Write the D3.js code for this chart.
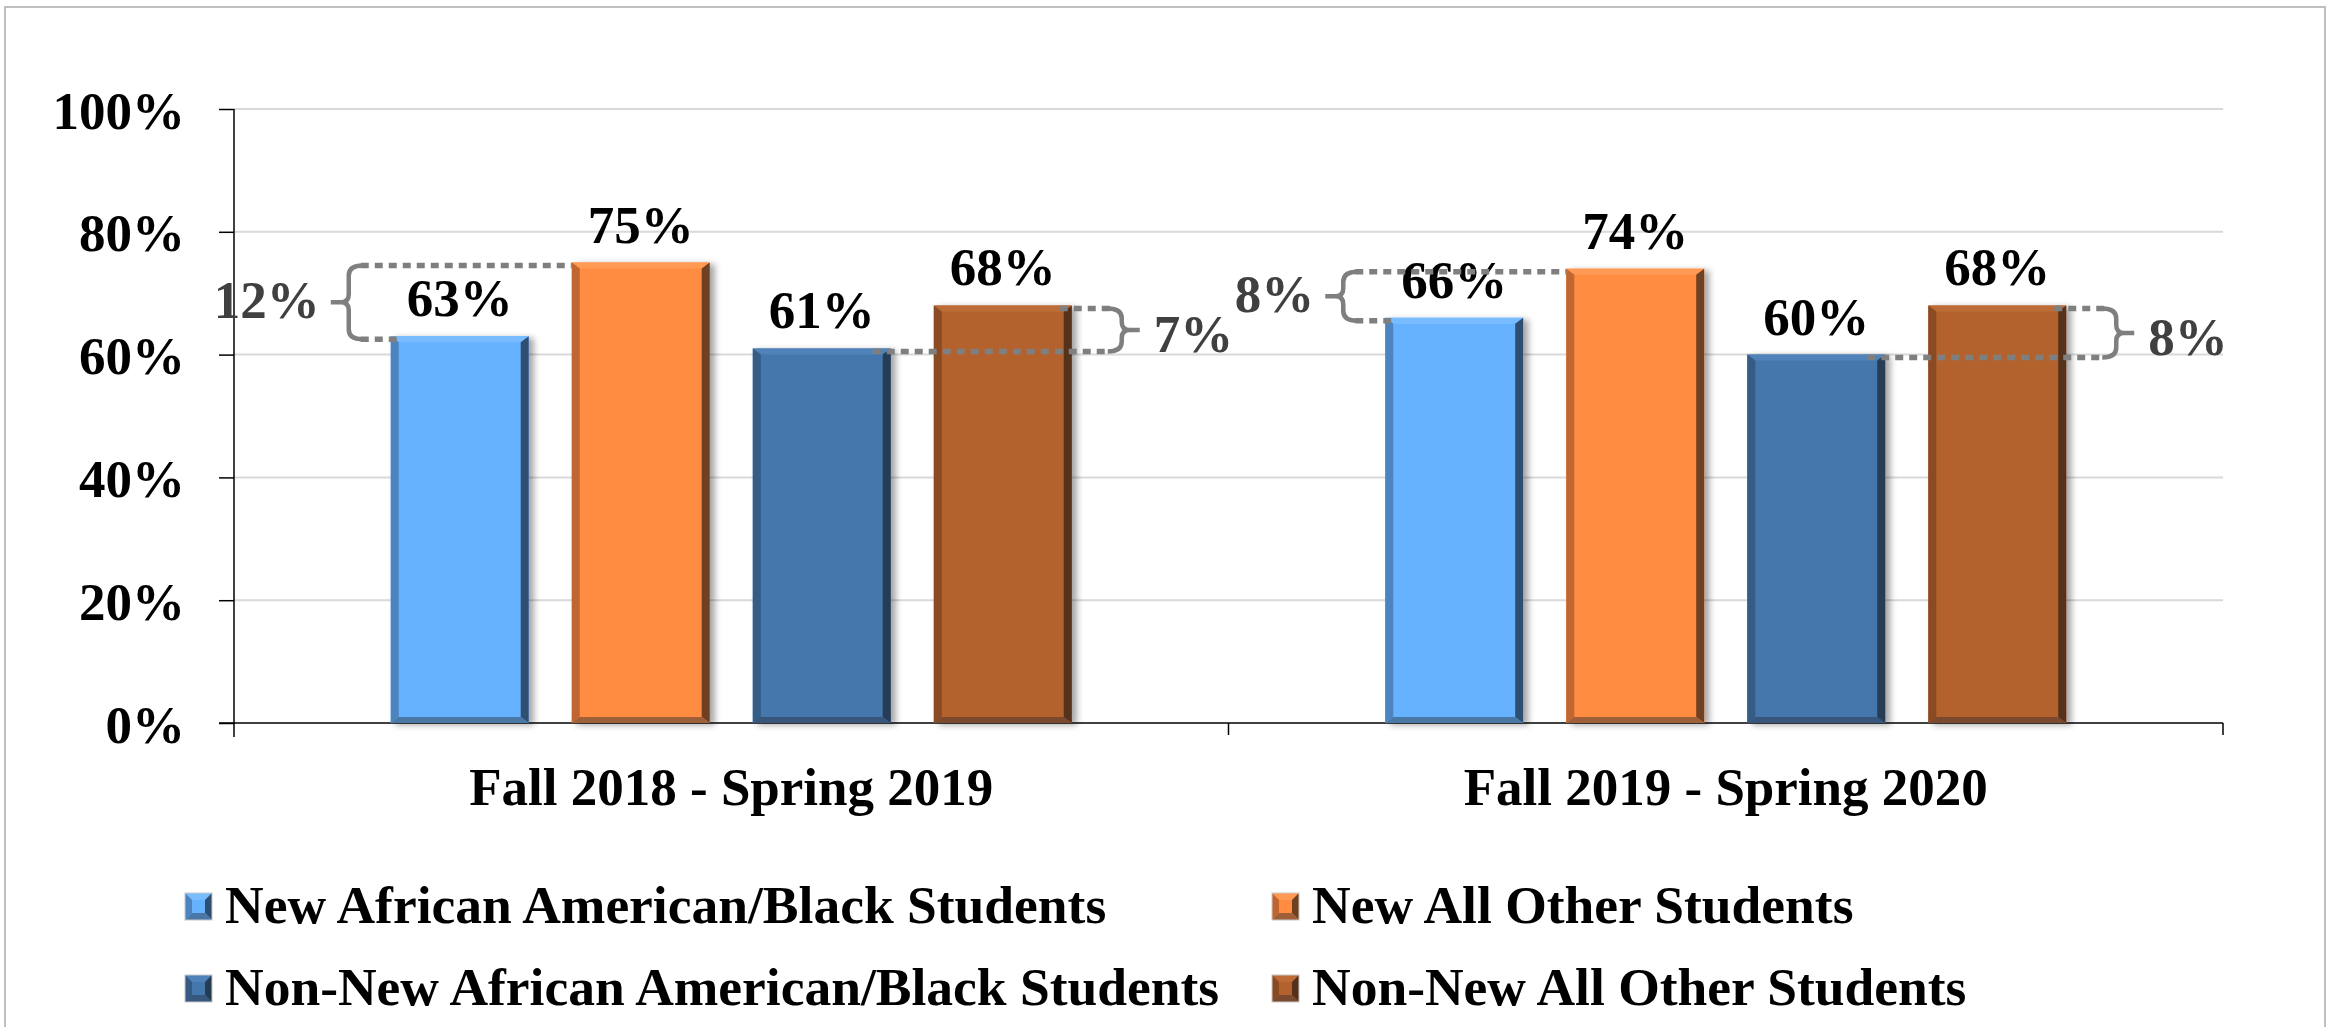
<!DOCTYPE html>
<html>
<head>
<meta charset="utf-8">
<script src="https://cdn.jsdelivr.net/npm/d3@7"></script>
<style>
  html, body { margin: 0; padding: 0; background: #fff; }
  svg { display: block; }
  text { font-family: "Liberation Serif", "Times New Roman", serif; font-weight: bold; }
</style>
</head>
<body>
<svg id="chart" width="2334" height="1027"></svg>
<script>
// ---------------- data ----------------
const categories = ["Fall 2018 - Spring 2019", "Fall 2019 - Spring 2020"];
const seriesNames = [
  "New African American/Black Students",
  "New All Other Students",
  "Non-New African American/Black Students",
  "Non-New All Other Students"
];
const newAfricanAmerican = [63, 66];
const newAllOther = [75, 74];
const nonNewAfricanAmerican = [61, 60];
const nonNewAllOther = [68, 68];
const yTickValues = [0, 20, 40, 60, 80, 100];
// gap annotations: category index, lower series, higher series, side of brace
const gapCategory = [0, 0, 1, 1];
const gapLow = [0, 2, 0, 2];
const gapHigh = [1, 3, 1, 3];
const gapSide = ["left", "right", "left", "right"];

const seriesValues = [newAfricanAmerican, newAllOther, nonNewAfricanAmerican, nonNewAllOther];

// ---------------- styles ----------------
const bevelColors = [
  { main: "#66b2ff", left: "#4c84bf", right: "#2f4f72", top: "#78bcff", bottom: "#4a77a6" },
  { main: "#ff8c40", left: "#bf6630", right: "#6f4020", top: "#ff9a55", bottom: "#9e6038" },
  { main: "#4577ad", left: "#355b85", right: "#253c55", top: "#4f82b8", bottom: "#37577c" },
  { main: "#b3622e", left: "#8a4b23", right: "#55301a", top: "#bd6c38", bottom: "#7a4a2e" }
];
const annoColor = "#7f7f7f";
const annoTextColor = "#404040";

const svg = d3.select("#chart");
const plotLeft = 234, plotRight = 2223, plotTop = 109, plotBottom = 723;

// filter for drop shadow
const defs = svg.append("defs");
const f = defs.append("filter").attr("id", "shadow")
  .attr("x", "-10%").attr("y", "-10%").attr("width", "130%").attr("height", "120%");
f.append("feDropShadow").attr("dx", 5).attr("dy", 2).attr("stdDeviation", 3)
  .attr("flood-color", "#000").attr("flood-opacity", 0.35);

// chart border
svg.append("rect").attr("x", 5).attr("y", 7).attr("width", 2320).attr("height", 1040)
  .attr("fill", "#fff").attr("stroke", "#bfbfbf").attr("stroke-width", 2);

// ---------------- scales ----------------
const y = d3.scaleLinear().domain([0, 100]).range([plotBottom, plotTop]);
const x0 = d3.scaleBand().domain(categories).range([plotLeft, plotRight]).padding(0);
const x1 = d3.scaleBand().domain(d3.range(seriesNames.length)).range([0, x0.bandwidth()])
  .paddingInner(0.238).paddingOuter(0.866);

// gridlines
svg.append("g").selectAll("line").data(yTickValues.filter(d => d > 0)).join("line")
  .attr("x1", plotLeft).attr("x2", plotRight)
  .attr("y1", d => y(d)).attr("y2", d => y(d))
  .attr("stroke", "#d9d9d9").attr("stroke-width", 2);

// y axis
const yAxis = svg.append("g").attr("transform", `translate(${plotLeft},0)`)
  .call(d3.axisLeft(y).tickValues(yTickValues).tickFormat(d => d + "%").tickSize(15).tickSizeOuter(0).tickPadding(34));
yAxis.select(".domain").remove();
yAxis.selectAll(".tick line").attr("stroke", "#000").attr("stroke-width", 1.5);
yAxis.selectAll(".tick text").attr("font-size", 53).attr("fill", "#000")
  .attr("font-family", "Liberation Serif").attr("font-weight", "bold").attr("dy", "0.36em");
svg.append("line").attr("x1", plotLeft).attr("x2", plotLeft)
  .attr("y1", y(100)).attr("y2", y(0) + 14).attr("stroke", "#000").attr("stroke-width", 1.5);

// x axis
const xAxis = svg.append("g").attr("transform", `translate(0,${plotBottom})`)
  .call(d3.axisBottom(x0).tickSize(0).tickPadding(44));
xAxis.select(".domain").remove();
xAxis.selectAll(".tick text").attr("font-size", 53).attr("fill", "#000")
  .attr("font-family", "Liberation Serif").attr("font-weight", "bold");
svg.append("line").attr("x1", plotLeft - 15).attr("x2", plotRight)
  .attr("y1", plotBottom).attr("y2", plotBottom).attr("stroke", "#000").attr("stroke-width", 1.5);
const boundaries = categories.map(c => x0(c)).concat([x0(categories[categories.length - 1]) + x0.bandwidth()]).slice(1);
svg.append("g").selectAll("line").data(boundaries).join("line")
  .attr("x1", d => d).attr("x2", d => d)
  .attr("y1", plotBottom).attr("y2", plotBottom + 12)
  .attr("stroke", "#000").attr("stroke-width", 1.5);

// bevel drawing
function bevelBox(g, x, yTop, w, h, c, bl, br, bt, bb) {
  const xr = x + w, yb = yTop + h;
  g.append("rect").attr("x", x).attr("y", yTop).attr("width", w).attr("height", h).attr("fill", c.main);
  g.append("polygon").attr("points", [[x, yTop], [xr, yTop], [xr - br, yTop + bt], [x + bl, yTop + bt]].join(" ")).attr("fill", c.top);
  g.append("polygon").attr("points", [[x, yTop], [x + bl, yTop + bt], [x + bl, yb - bb], [x, yb]].join(" ")).attr("fill", c.left);
  g.append("polygon").attr("points", [[xr, yTop], [xr, yb], [xr - br, yb - bb], [xr - br, yTop + bt]].join(" ")).attr("fill", c.right);
  g.append("polygon").attr("points", [[x, yb], [x + bl, yb - bb], [xr - br, yb - bb], [xr, yb]].join(" ")).attr("fill", c.bottom);
}

// bars
const barsG = svg.append("g");
categories.forEach((cat, ci) => {
  seriesValues.forEach((vals, si) => {
    const bx = x0(cat) + x1(si);
    const g = barsG.append("g").attr("filter", "url(#shadow)");
    bevelBox(g, bx, y(vals[ci]), x1.bandwidth(), y(0) - y(vals[ci]), bevelColors[si], 8, 8, 6, 6);
  });
});

// value labels
const labelG = svg.append("g");
categories.forEach((cat, ci) => {
  seriesValues.forEach((vals, si) => {
    labelG.append("text")
      .attr("x", x0(cat) + x1(si) + x1.bandwidth() / 2)
      .attr("y", y(vals[ci]) - 20)
      .attr("text-anchor", "middle")
      .attr("font-size", 53).attr("fill", "#000")
      .text(vals[ci] + "%");
  });
});

// gap annotations
const dotW = 5.5, dotDash = "8,6";
const annoG = svg.append("g");
gapCategory.forEach((ci, k) => {
  const cat = categories[ci];
  const lowV = seriesValues[gapLow[k]][ci];
  const highV = seriesValues[gapHigh[k]][ci];
  const yHigh = y(highV) + 3, yLow = y(lowV) + 3;
  const yMid = (yHigh + yLow) / 2;
  const lowX0 = x0(cat) + x1(gapLow[k]);
  const highX0 = x0(cat) + x1(gapHigh[k]);
  const bw = x1.bandwidth();
  if (gapSide[k] === "left") {
    const bx = lowX0 - 42;
    annoG.append("line").attr("x1", bx + 12).attr("x2", highX0).attr("y1", yHigh).attr("y2", yHigh)
      .attr("stroke", annoColor).attr("stroke-width", dotW).attr("stroke-dasharray", dotDash);
    annoG.append("line").attr("x1", bx + 12).attr("x2", lowX0 + 8).attr("y1", yLow).attr("y2", yLow)
      .attr("stroke", annoColor).attr("stroke-width", dotW).attr("stroke-dasharray", dotDash);
    const p = d3.path();
    p.moveTo(bx + 14, yHigh);
    p.quadraticCurveTo(bx, yHigh, bx, yHigh + 10);
    p.lineTo(bx, yMid - 8);
    p.quadraticCurveTo(bx, yMid, bx - 8, yMid);
    p.lineTo(bx - 18, yMid);
    p.moveTo(bx - 8, yMid);
    p.quadraticCurveTo(bx, yMid, bx, yMid + 8);
    p.lineTo(bx, yLow - 10);
    p.quadraticCurveTo(bx, yLow, bx + 14, yLow);
    annoG.append("path").attr("d", p.toString()).attr("fill", "none")
      .attr("stroke", annoColor).attr("stroke-width", 4.5);
    annoG.append("text").attr("x", bx - 29).attr("y", yMid + 16)
      .attr("text-anchor", "end").attr("font-size", 53).attr("fill", annoTextColor)
      .text((highV - lowV) + "%");
  } else {
    const bx = highX0 + bw + 50;
    annoG.append("line").attr("x1", highX0 + bw - 12).attr("x2", bx - 12).attr("y1", yHigh).attr("y2", yHigh)
      .attr("stroke", annoColor).attr("stroke-width", dotW).attr("stroke-dasharray", dotDash);
    annoG.append("line").attr("x1", lowX0 + bw - 18).attr("x2", bx - 12).attr("y1", yLow).attr("y2", yLow)
      .attr("stroke", annoColor).attr("stroke-width", dotW).attr("stroke-dasharray", dotDash);
    const p = d3.path();
    p.moveTo(bx - 14, yHigh);
    p.quadraticCurveTo(bx, yHigh, bx, yHigh + 10);
    p.lineTo(bx, yMid - 8);
    p.quadraticCurveTo(bx, yMid, bx + 8, yMid);
    p.lineTo(bx + 18, yMid);
    p.moveTo(bx + 8, yMid);
    p.quadraticCurveTo(bx, yMid, bx, yMid + 8);
    p.lineTo(bx, yLow - 10);
    p.quadraticCurveTo(bx, yLow, bx - 14, yLow);
    annoG.append("path").attr("d", p.toString()).attr("fill", "none")
      .attr("stroke", annoColor).attr("stroke-width", 4.5);
    annoG.append("text").attr("x", bx + 32).attr("y", yMid + 22)
      .attr("text-anchor", "start").attr("font-size", 53).attr("fill", annoTextColor)
      .text((highV - lowV) + "%");
  }
});

// legend
const legendCols = [185, 1272];
const legendRows = [893, 975];
const legendG = svg.append("g");
seriesNames.forEach((name, si) => {
  const lx = legendCols[si % 2];
  const ly = legendRows[Math.floor(si / 2)];
  const g = legendG.append("g");
  bevelBox(g, lx, ly, 27, 27, bevelColors[si], 7, 7, 7, 7);
  g.append("rect").attr("x", lx).attr("y", ly).attr("width", 27).attr("height", 27)
    .attr("fill", "none").attr("stroke", "#c8c8c8").attr("stroke-width", 1);
  legendG.append("text").attr("x", lx + 40).attr("y", ly + 30)
    .attr("font-size", 53.5).attr("fill", "#000").text(name);
});
</script>
</body>
</html>
